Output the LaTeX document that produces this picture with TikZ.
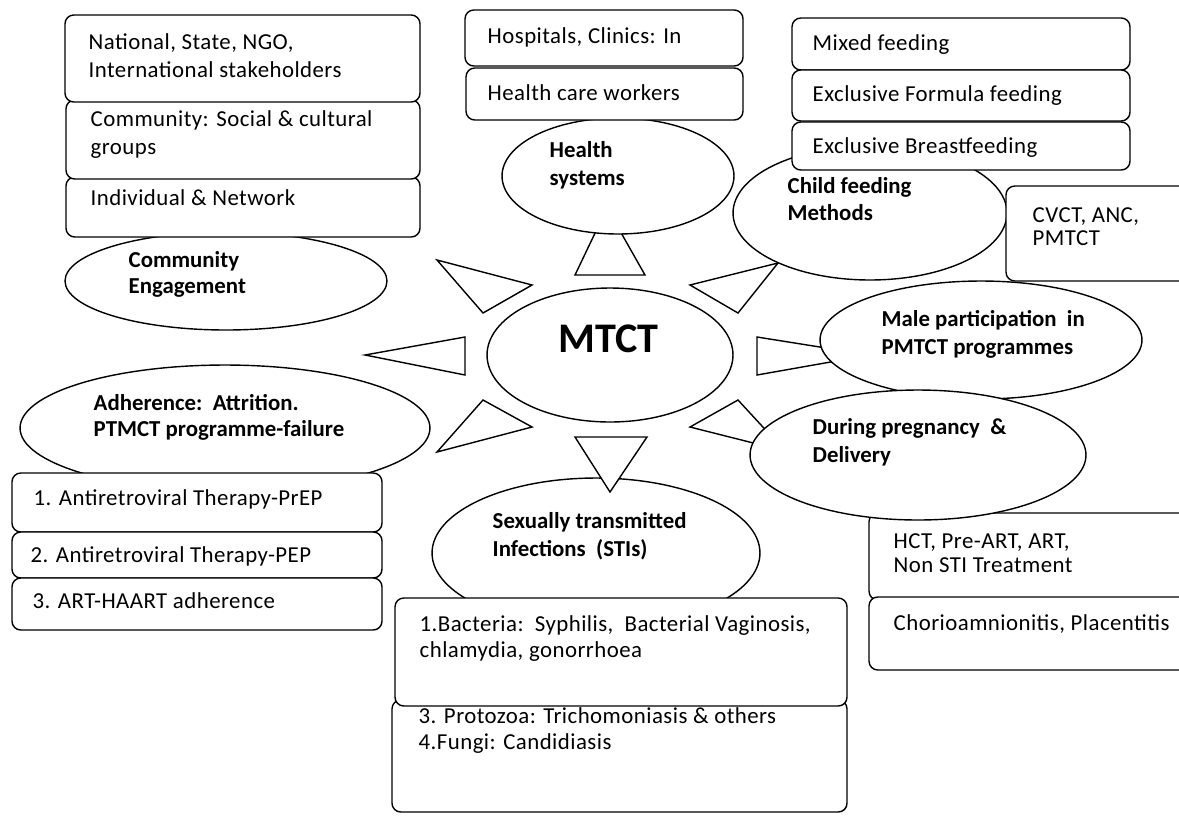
\documentclass[tikz,border=0pt]{standalone}
\usepackage{fontspec}
\setmainfont{Carlito}
\newfontfamily\boxfont[LetterSpace=2]{Carlito}
\usetikzlibrary{shapes.geometric}

\begin{document}
\begin{tikzpicture}[x=0.02cm,y=-0.02cm,line width=0.8pt,
  bubble/.style={draw,ellipse,fill=white,inner sep=0pt},
  panel/.style={draw,fill=white,rounded corners=5pt},
  tri/.style={draw,fill=white},
  lbl/.style={anchor=base west,inner sep=0pt,align=left,font=\boxfont\fontsize{13}{14.5}\selectfont},
  head/.style={lbl,font=\fontsize{13}{14.5}\selectfont\bfseries}]
\useasboundingbox (0,0) rectangle (1179,816);
\node[bubble,minimum width=6.44cm,minimum height=1.96cm] (cengage) at (226,281) {};
\draw[panel] (66,177) rectangle (420,237);
\draw[panel] (66,100) rectangle (420,179);
\draw[panel] (65,15) rectangle (420,102);
\draw[tri] (575,275) -- (645,275) -- (607,208) -- cycle;
\node[bubble,minimum width=4.64cm,minimum height=2.32cm] (hsys) at (618,176) {};
\draw[panel] (465,10) rectangle (743,66);
\draw[panel] (466,68) rectangle (743,120);
\draw[tri] (690,285) -- (778,263) -- (738,313) -- cycle;
\node[bubble,minimum width=5.48cm,minimum height=2.68cm] (cfeed) at (870,213) {};
\draw[panel] (792,18) rectangle (1130,70);
\draw[panel] (792,70) rectangle (1130,121);
\draw[panel] (792,122) rectangle (1130,170);
\draw[panel] (1006,186) rectangle (1190,281);
\node[bubble,minimum width=4.92cm,minimum height=2.68cm] (mtct) at (610,355) {};
\draw[tri] (437,260) -- (532,285) -- (483,313) -- cycle;
\draw[tri] (365,355) -- (465,337) -- (465,375) -- cycle;
\draw[tri] (483,400) -- (532,427) -- (437,452) -- cycle;
\draw[tri] (757,337) -- (757,375) -- (870,355) -- cycle;
\node[bubble,minimum width=6.44cm,minimum height=2.36cm] (male) at (981,340) {};
\draw[tri] (690,427) -- (738,400) -- (785,451) -- cycle;
\draw[panel] (869,513) rectangle (1190,600);
\draw[panel] (869,597) rectangle (1190,670);
\node[bubble,minimum width=6.72cm,minimum height=2.6cm] (preg) at (918,455) {};
\node[bubble,minimum width=8.2cm,minimum height=2.52cm] (adher) at (225,428) {};
\draw[panel] (12,473) rectangle (382,532);
\draw[panel] (12,532) rectangle (382,578);
\draw[panel] (12,578) rectangle (382,630);
\node[bubble,minimum width=6.56cm,minimum height=3cm] (sti) at (596,553) {};
\draw[panel] (392,700) rectangle (847,812);
\draw[panel] (395,598) rectangle (847,706);
\draw[tri] (575,437) -- (647,437) -- (610,492) -- cycle;
\node[lbl,font=\fontsize{24}{28}\selectfont\bfseries] (mtcttxt) at (558,352) {MTCT};
\node[lbl] (natl) at (88,77) {National, State, NGO,\\[1.4pt]International stakeholders};
\node[lbl] (commun) at (90,154) {Community: Social \& cultural\\[1.4pt]groups};
\node[lbl] (indiv) at (90,205) {Individual \& Network};
\node[head] (cengtxt) at (128,293) {Community\\Engagement};
\node[lbl] (hosp) at (487,43) {Hospitals, Clinics: In};
\node[lbl] (hcw) at (487,100) {Health care workers};
\node[head] (hsystxt) at (549,185) {Health\\[1.4pt]systems};
\node[lbl] (mixed) at (812,50) {Mixed feeding};
\node[lbl] (formula) at (812,101) {Exclusive Formula feeding};
\node[lbl] (breast) at (812,153) {Exclusive Breastfeeding};
\node[head] (cfeedtxt) at (787,220) {Child feeding\\[0.8pt]Methods};
\node[lbl] (cvct) at (1032,245) {CVCT, ANC,\\[-1.5pt]PMTCT};
\node[head] (maletxt) at (881,354) {Male participation\ \ in\\[1.4pt]PMTCT programmes};
\node[head] (pregtxt) at (812,462) {During pregnancy\ \ \&\\[1.4pt]Delivery};
\node[head] (adhertxt) at (93,436) {Adherence:\ \ Attrition.\\PTMCT programme-failure};
\node[lbl] (prep) at (33,505) {1. Antiretroviral Therapy-PrEP};
\node[lbl] (pep) at (30,562) {2. Antiretroviral Therapy-PEP};
\node[lbl] (haart) at (32,608) {3. ART-HAART adherence};
\node[head] (stitxt) at (492,556) {Sexually transmitted\\[1.4pt]Infections\ \ (STIs)};
\node[lbl] (bact) at (419,657) {1.Bacteria:\ \ Syphilis,\ \ Bacterial Vaginosis,\\chlamydia, gonorrhoea};
\node[lbl] (proto) at (418,749) {3. Protozoa: Trichomoniasis \& others\\4.Fungi: Candidiasis};
\node[lbl] (hct) at (893,572) {HCT, Pre-ART, ART,\\[-0.9pt]Non STI Treatment};
\node[lbl] (chorio) at (893,630) {Chorioamnionitis, Placentitis};
\end{tikzpicture}
\end{document}
